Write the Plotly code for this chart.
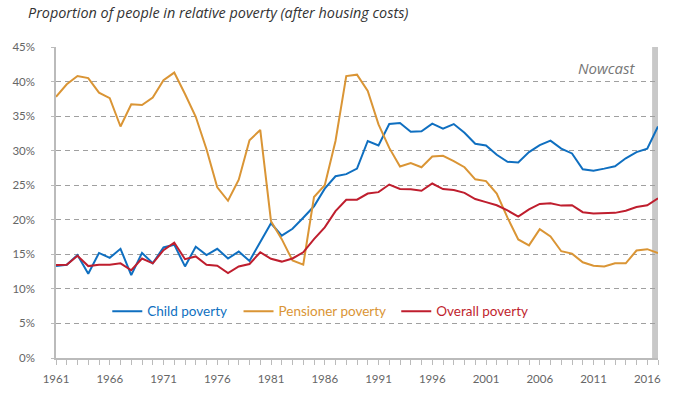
import plotly.graph_objects as go

years = list(range(1961, 2018))

child_poverty = [13.3, 13.5, 14.9, 12.2, 15.2, 14.5, 15.8, 12.0, 15.2, 13.7,
                 16.0, 16.4, 13.25, 16.1, 14.9, 15.8, 14.4, 15.4, 14.05, 16.8,
                 19.5, 17.7, 18.7, 20.3, 21.95, 24.5, 26.3, 26.6, 27.4, 31.4,
                 30.75, 33.85, 34.0, 32.75, 32.8, 33.9, 33.2, 33.85, 32.6, 31.0,
                 30.75, 29.4, 28.4, 28.3, 29.8, 30.8, 31.45, 30.3, 29.6, 27.3,
                 27.1, 27.4, 27.75, 28.9, 29.8, 30.3, 33.5]

pensioner_poverty = [37.8, 39.6, 40.8, 40.5, 38.4, 37.6, 33.5, 36.7, 36.6, 37.7,
                     40.2, 41.3, 38.2, 34.9, 30.2, 24.7, 22.75, 25.8, 31.5, 33.0,
                     19.8, 17.2, 14.1, 13.5, 23.3, 25.0, 31.4, 40.8, 41.0, 38.65,
                     33.8, 30.4, 27.7, 28.2, 27.6, 29.15, 29.25, 28.5, 27.6, 25.85,
                     25.6, 23.8, 20.3, 17.15, 16.3, 18.65, 17.6, 15.45, 15.1, 13.85,
                     13.35, 13.25, 13.7, 13.7, 15.55, 15.75, 15.2]

overall_poverty = [13.45, 13.5, 14.8, 13.3, 13.5, 13.5, 13.7, 12.7, 14.4, 13.7,
                   15.6, 16.7, 14.3, 14.7, 13.5, 13.35, 12.3, 13.25, 13.6, 15.3,
                   14.35, 13.95, 14.4, 15.3, 17.2, 18.9, 21.25, 22.9, 22.9, 23.8,
                   24.0, 25.1, 24.45, 24.4, 24.2, 25.25, 24.45, 24.3, 23.9, 23.0,
                   22.55, 22.1, 21.35, 20.45, 21.5, 22.3, 22.4, 22.05, 22.1, 21.1,
                   20.9, 21.0, 21.0, 21.3, 21.85, 22.1, 23.1]

series_names = ["Child poverty", "Pensioner poverty", "Overall poverty"]
colors = ["#0f6fc0", "#da9535", "#bf1e2e"]

x_tick_years = list(range(1961, 2017, 5))
y_ticks = list(range(0, 46, 5))
nowcast_start = 2016.45
nowcast_end = 2017

FONT = "Lato"
TFONT = "Open Sans"

legend_ids = ["legend", "legend2", "legend3"]
legend_x = [0.0852, 0.3032, 0.5652]

fig = go.Figure()
for name, vals, col, lid in zip(series_names, [child_poverty, pensioner_poverty, overall_poverty], colors, legend_ids):
    fig.add_trace(go.Scatter(
        x=years, y=vals, mode="lines",
        name=f"<span style='color:{col}'>{name}</span>",
        line=dict(color=col, width=2), legend=lid,
    ))

fig.add_shape(type="rect", xref="x", yref="y", x0=nowcast_start, x1=nowcast_end,
              y0=0, y1=45, fillcolor="#c8c8c8", line=dict(width=0), layer="below")

fig.add_annotation(text="<i>Nowcast</i>", xref="paper", yref="y", x=0.965, y=42.0,
                   xanchor="right", yanchor="middle", showarrow=False,
                   font=dict(family=TFONT, size=15, color="#777777"))

fig.add_annotation(text="<i>Proportion of people in relative poverty (after housing costs)</i>",
                   xref="paper", yref="paper", x=-0.0504, y=1.0, yshift=35,
                   xanchor="left", yanchor="middle", showarrow=False,
                   font=dict(family=TFONT, size=14.4, color="#333333"))

leg_common = dict(orientation="h", y=0.150, xanchor="left", yanchor="middle",
                  bgcolor="rgba(0,0,0,0)", font=dict(family=FONT, size=13.5), itemwidth=30)

fig.update_layout(
    width=681, height=397,
    margin=dict(l=43, r=23, t=47, b=32),
    paper_bgcolor="white", plot_bgcolor="white",
    font=dict(family=FONT, size=12, color="#666666"),
    showlegend=True,
    legend=dict(x=legend_x[0], **leg_common),
    legend2=dict(x=legend_x[1], **leg_common),
    legend3=dict(x=legend_x[2], **leg_common),
    xaxis=dict(range=[1961, 2017], tickmode="array", tickvals=x_tick_years,
               ticktext=[str(y) for y in x_tick_years],
               showgrid=False, zeroline=False, showline=True, linecolor="#bbbbbb", linewidth=1.5,
               ticks="outside", ticklen=5, tickcolor="#bbbbbb", ticklabelstandoff=4,
               minor=dict(dtick=1, tick0=1961, ticks="outside", ticklen=5, tickcolor="#bbbbbb", showgrid=False),
               tickfont=dict(family=FONT, size=11.5, color="#666666")),
    yaxis=dict(range=[0, 45], tickmode="array", tickvals=y_ticks,
               ticktext=[f"{v}%" for v in y_ticks],
               showgrid=True, gridcolor="#a0a0a0", gridwidth=1.2, griddash="5px,4px",
               zeroline=False, showline=True, linecolor="#bbbbbb", linewidth=1.5,
               ticks="outside", ticklen=3, tickcolor="#bbbbbb", ticklabelstandoff=14,
               tickfont=dict(family=FONT, size=11.5, color="#666666")),
)

fig.write_html("out.html", config={"displayModeBar": False},
               post_script="document.body.style.margin='0px';")
